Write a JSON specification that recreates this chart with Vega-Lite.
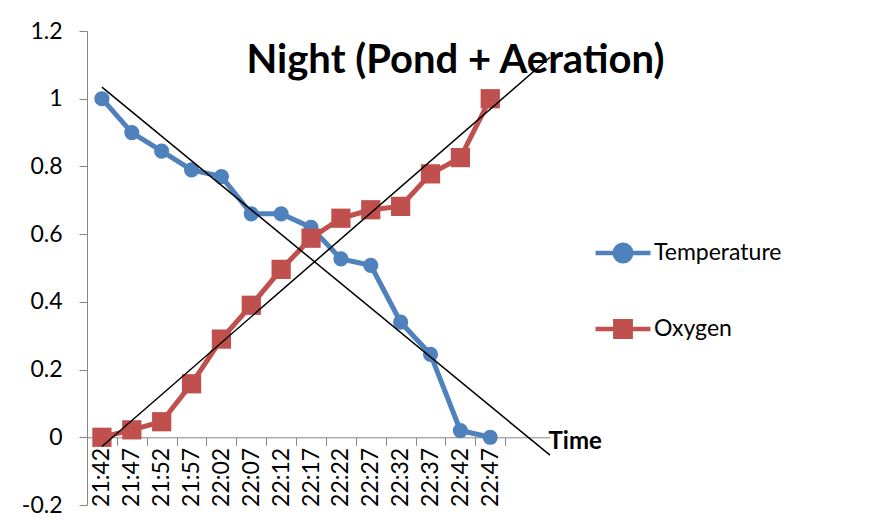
{
  "$schema": "https://vega.github.io/schema/vega-lite/v6.json",
  "width": 463,
  "height": 474,
  "autosize": "none",
  "padding": {"left": 87, "top": 31, "right": 340, "bottom": 15},
  "background": "white",
  "title": {
    "text": "Night (Pond + Aeration)",
    "font": "Lato",
    "fontSize": 40,
    "fontWeight": "bold",
    "color": "black",
    "anchor": "middle",
    "frame": "group",
    "baseline": "alphabetic",
    "dx": 137,
    "dy": 53,
    "offset": -40
  },
  "config": {
    "view": {"stroke": null},
    "axis": {"grid": false},
    "legend": {
      "orient": "none",
      "title": null,
      "padding": 0,
      "labelFont": "Lato",
      "labelFontSize": 23,
      "labelColor": "black",
      "labelOffset": 10,
      "symbolSize": 1340,
      "symbolStrokeWidth": 4.5,
      "symbolOpacity": 1
    }
  },
  "data": {
    "values": [
      {"i": 1, "time": "21:42", "series": "Temperature", "value": 1.0},
      {"i": 2, "time": "21:47", "series": "Temperature", "value": 0.9},
      {"i": 3, "time": "21:52", "series": "Temperature", "value": 0.845},
      {"i": 4, "time": "21:57", "series": "Temperature", "value": 0.79},
      {"i": 5, "time": "22:02", "series": "Temperature", "value": 0.77},
      {"i": 6, "time": "22:07", "series": "Temperature", "value": 0.66},
      {"i": 7, "time": "22:12", "series": "Temperature", "value": 0.66},
      {"i": 8, "time": "22:17", "series": "Temperature", "value": 0.62},
      {"i": 9, "time": "22:22", "series": "Temperature", "value": 0.527},
      {"i": 10, "time": "22:27", "series": "Temperature", "value": 0.508},
      {"i": 11, "time": "22:32", "series": "Temperature", "value": 0.34},
      {"i": 12, "time": "22:37", "series": "Temperature", "value": 0.245},
      {"i": 13, "time": "22:42", "series": "Temperature", "value": 0.02},
      {"i": 14, "time": "22:47", "series": "Temperature", "value": 0.0},
      {"i": 1, "time": "21:42", "series": "Oxygen", "value": 0.0},
      {"i": 2, "time": "21:47", "series": "Oxygen", "value": 0.022},
      {"i": 3, "time": "21:52", "series": "Oxygen", "value": 0.046},
      {"i": 4, "time": "21:57", "series": "Oxygen", "value": 0.158},
      {"i": 5, "time": "22:02", "series": "Oxygen", "value": 0.29},
      {"i": 6, "time": "22:07", "series": "Oxygen", "value": 0.39},
      {"i": 7, "time": "22:12", "series": "Oxygen", "value": 0.496},
      {"i": 8, "time": "22:17", "series": "Oxygen", "value": 0.588},
      {"i": 9, "time": "22:22", "series": "Oxygen", "value": 0.647},
      {"i": 10, "time": "22:27", "series": "Oxygen", "value": 0.672},
      {"i": 11, "time": "22:32", "series": "Oxygen", "value": 0.682},
      {"i": 12, "time": "22:37", "series": "Oxygen", "value": 0.778},
      {"i": 13, "time": "22:42", "series": "Oxygen", "value": 0.826},
      {"i": 14, "time": "22:47", "series": "Oxygen", "value": 1.0}
    ]
  },
  "encoding": {
    "x": {
      "field": "i",
      "type": "quantitative",
      "scale": {"domain": [0.5, 16], "nice": false, "zero": false},
      "axis": {
        "orient": "bottom",
        "offset": -67.7,
        "values": [1, 2, 3, 4, 5, 6, 7, 8, 9, 10, 11, 12, 13, 14, 15],
        "labelExpr": "datum.value <= 14 ? ['21:42','21:47','21:52','21:57','22:02','22:07','22:12','22:17','22:22','22:27','22:32','22:37','22:42','22:47'][datum.value - 1] : ''",
        "tickOffset": -14.935,
        "labelOffset": 14.935,
        "labelAngle": -90,
        "labelAlign": "right",
        "labelBaseline": "middle",
        "labelFont": "Lato",
        "labelFontSize": 23,
        "labelColor": "black",
        "labelPadding": 2,
        "labelBound": false,
        "labelOverlap": false,
        "labelFlush": false,
        "tickSize": 8,
        "tickColor": "#868686",
        "tickWidth": 1,
        "domainColor": "#868686",
        "domainWidth": 1,
        "title": "Time",
        "titleFont": "Lato",
        "titleFontSize": 24,
        "titleFontWeight": "bold",
        "titleColor": "black",
        "titleAngle": 0,
        "titleAlign": "left",
        "titleBaseline": "middle",
        "titleX": 461,
        "titleY": 4
      }
    },
    "y": {
      "field": "value",
      "type": "quantitative",
      "scale": {"domain": [-0.2, 1.2], "nice": false, "zero": false},
      "axis": {
        "values": [-0.2, 0, 0.2, 0.4, 0.6, 0.8, 1, 1.2],
        "labelExpr": "replace(format(datum.value, '~g'), '\u2212', '-')",
        "labelFont": "Lato",
        "labelFontSize": 23,
        "labelColor": "black",
        "labelPadding": 17,
        "tickSize": 8,
        "tickColor": "#868686",
        "domainColor": "#868686",
        "title": null
      }
    }
  },
  "layer": [
    {
      "transform": [{"filter": "datum.series === 'Temperature'"}],
      "encoding": {
        "color": {
          "field": "series",
          "type": "nominal",
          "scale": {"domain": ["Temperature"], "range": ["#4F81BD"]},
          "legend": {
            "legendX": 515,
            "legendY": 201,
            "symbolType": "M-1.5,0H1.5M0.45,0A0.45,0.45,0,1,1,-0.45,0A0.45,0.45,0,1,1,0.45,0Z",
            "symbolFillColor": "#4F81BD",
            "symbolStrokeColor": "#4F81BD"
          }
        }
      },
      "layer": [
        {"mark": {"type": "line", "strokeWidth": 5}},
        {"mark": {"type": "point", "shape": "circle", "filled": true, "opacity": 1, "size": 230}}
      ]
    },
    {
      "transform": [{"filter": "datum.series === 'Oxygen'"}],
      "encoding": {
        "color": {
          "field": "series",
          "type": "nominal",
          "scale": {"domain": ["Oxygen"], "range": ["#C0504D"]},
          "legend": {
            "legendX": 515,
            "legendY": 277,
            "symbolType": "M-1.5,0H1.5M-0.42,-0.42H0.42V0.42H-0.42Z",
            "symbolFillColor": "#C0504D",
            "symbolStrokeColor": "#C0504D"
          }
        }
      },
      "layer": [
        {"mark": {"type": "line", "strokeWidth": 5}},
        {"mark": {"type": "point", "shape": "square", "filled": true, "opacity": 1, "size": 370}}
      ]
    },
    {
      "transform": [
        {"regression": "value", "on": "i", "groupby": ["series"], "extent": [1, 16]}
      ],
      "mark": {"type": "line", "strokeWidth": 1.5, "clip": false, "color": "black"},
      "encoding": {
        "detail": {"field": "series", "type": "nominal"}
      }
    }
  ],
  "resolve": {"scale": {"color": "independent"}}
}
